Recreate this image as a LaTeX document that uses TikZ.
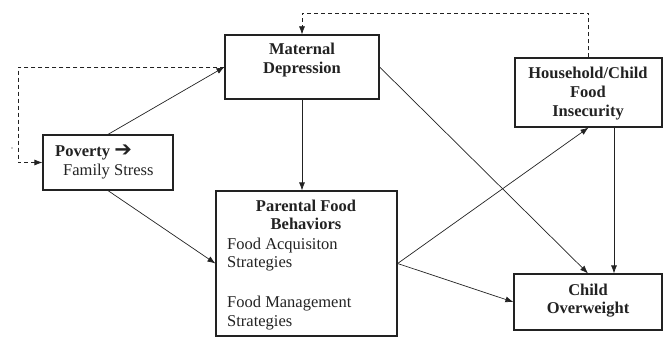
\documentclass[tikz,border=0pt]{standalone}
\usepackage{fontspec}
\setmainfont{Liberation Serif}
\newfontfamily\arrowfont{DejaVu Sans}
\usetikzlibrary{arrows.meta}
\definecolor{ink}{HTML}{222222}
\begin{document}
\begin{tikzpicture}[x=1pt,y=-1pt,
  box/.style={draw=ink, line width=1.2pt, inner sep=0pt, rectangle},
  conn/.style={draw=ink, line width=0.7pt, -{Latex[length=8pt,width=6pt]}},
  dconn/.style={conn, dash pattern=on 4pt off 3pt},
  lbl/.style={font=\fontsize{16.5}{19}\selectfont, inner sep=0pt, anchor=base, text=ink},
  lbll/.style={lbl, anchor=base west}]
\useasboundingbox (0,0) rectangle (663,337);

% boxes
\node[box, minimum width=130pt, minimum height=55pt] (pov) at (108,162.5) {};
\node[box, minimum width=154pt, minimum height=64pt] (mat) at (302,67) {};
\node[box, minimum width=147pt, minimum height=69pt] (hh) at (588.5,92.5) {};
\node[box, minimum width=181pt, minimum height=145pt] (par) at (306.5,263.5) {};
\node[box, minimum width=148pt, minimum height=56pt] (ow) at (588,302) {};

% texts
\node[lbll] (t1) at (55,156) {\textbf{Poverty} {\arrowfont\fontsize{21}{21}\selectfont ➔}};
\node[lbll] (t2) at (63,175) {Family Stress};
\node[lbl] (t3) at (302,55) {\textbf{Maternal}};
\node[lbl] (t4) at (302,74) {\textbf{Depression}};
\node[lbl] (t5) at (588,78) {\textbf{Household/Child}};
\node[lbl] (t6) at (588,97) {\textbf{Food}};
\node[lbl] (t7) at (588,116) {\textbf{Insecurity}};
\node[lbl] (t8) at (306,211) {\textbf{Parental Food}};
\node[lbl] (t9) at (306,229) {\textbf{Behaviors}};
\node[lbll] (t10) at (227,249) {Food Acquisiton};
\node[lbll] (t11) at (227,267) {Strategies};
\node[lbll] (t12) at (227,307) {Food Management};
\node[lbll] (t13) at (227,326) {Strategies};
\node[lbl] (t14) at (588,295) {\textbf{Child}};
\node[lbl] (t15) at (588,313) {\textbf{Overweight}};

% helper coordinates
\coordinate (topy) at (0,13);
\coordinate (leftx) at (18,0);
\coordinate (hhx) at (614,0);

% solid connectors
\draw[conn] (pov.north) -- (mat.west);
\draw[conn] (pov.south) -- (par.west);
\draw[conn] (mat.south) -- (mat.south |- par.north);
\draw[conn] (mat.east) -- (ow.north);
\draw[conn] (par.east) -- (hh.south);
\draw[conn] (par.east) -- (ow.west);
\draw[conn] (hhx |- hh.south) -- (hhx |- ow.north);

% dashed connectors
\draw[dconn] (hh.north) -- (hh.north |- topy) -| (mat.north);
\draw[dconn] (mat.west) -- (mat.west -| leftx) |- (pov.west);

% stray mark
\fill[ink] (12,148) circle (0.6pt);
\end{tikzpicture}
\end{document}
